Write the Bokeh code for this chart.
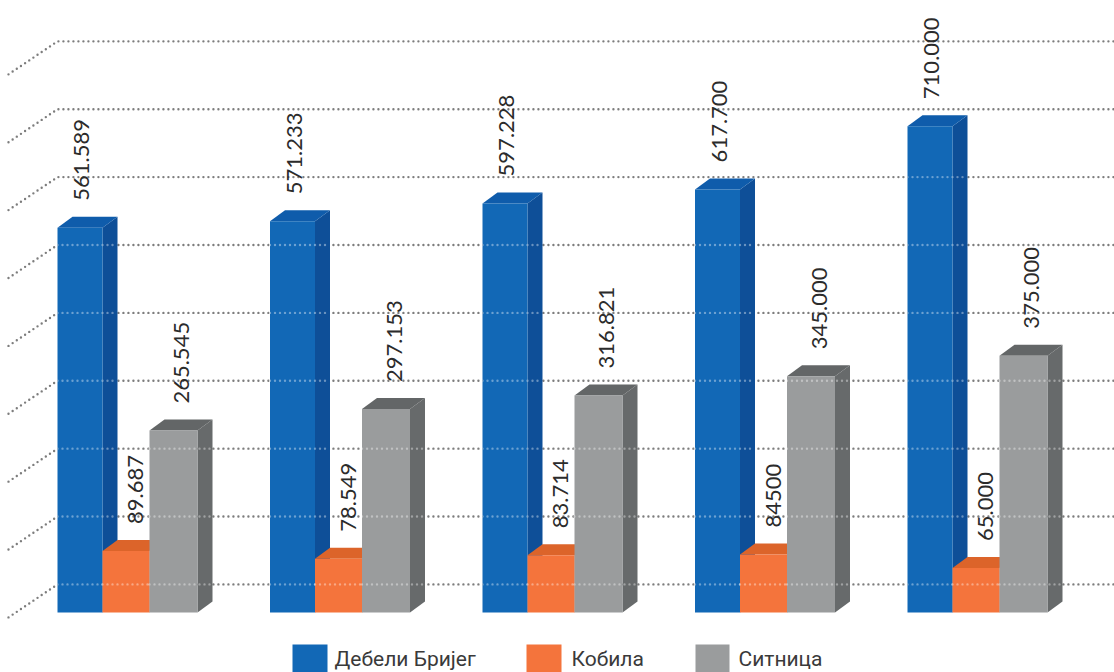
import math
from bokeh.plotting import figure
from bokeh.models import Range1d
from bokeh.core.properties import value
from bokeh.embed import file_html
from bokeh.resources import INLINE

debeli = [561589, 571233, 597228, 617700, 710000]
kobila = [89687, 78549, 83714, 84500, 65000]
sitnica = [265545, 297153, 316821, 345000, 375000]
debeli_labels = ["561.589", "571.233", "597.228", "617.700", "710.000"]
kobila_labels = ["89.687", "78.549", "83.714", "84500", "65.000"]
sitnica_labels = ["265.545", "297.153", "316.821", "345.000", "375.000"]
series_names = ["Дебели Бријег", "Кобила", "Ситница"]
grid_levels = [41000 + i * 99100 for i in range(9)]

# layout, in screen pixels of the reference
W, H = 1114, 672
GROUP = 212.5
X0, Y0, K = 57.0, 612.0, 0.685


def X(px):
    return (px - X0) / GROUP


def Y(py):
    return (Y0 - py) / K * 1000


DX = 15 / GROUP          # depth of a bar, in groups
DY = 11 / K * 1000       # depth of a bar, in value units
GRID_DY = 33 / K * 1000

p = figure(width=W, height=H, output_backend="svg", toolbar_location=None,
           x_range=Range1d(X(0), X(W)), y_range=Range1d(Y(H), Y(0)),
           min_border=0, outline_line_color=None)
p.xaxis.visible = False
p.yaxis.visible = False
p.xgrid.visible = False
p.ygrid.visible = False
p.background_fill_color = "white"
p.border_fill_color = "white"

dot = dict(line_dash="0 5", line_cap="round", line_width=2.4)

# back wall grid with its slanted side wall
p.multi_line([[X(8), X(57), X(1114)] for _ in grid_levels],
             [[g - GRID_DY, g, g] for g in grid_levels],
             line_color="#7d7d7d", **dot)

edges = [0, 45, 92, 140]
styles = [("#1268b6", "#0e4f98", "#0f5cab"),
          ("#f4743c", "#d9622a", "#dc642a"),
          ("#9a9c9d", "#676a6b", "#636667")]
series = [debeli, kobila, sitnica]
labels = [debeli_labels, kobila_labels, sitnica_labels]
label_x = [24, 78, 124]

for g in range(5):
    for s in range(3):
        v = series[s][g]
        left = g + edges[s] / GROUP
        right = g + edges[s + 1] / GROUP
        front, side, top = styles[s]
        # side face
        p.patch([right, right + DX, right + DX, right],
                [0, DY, v + DY, v], fill_color=side, line_color=None)
        # top face
        p.patch([left, left + DX, right + DX, right],
                [v, v + DY, v + DY, v], fill_color=top, line_color=None)
        # front face
        p.quad(left=left, right=right, bottom=0, top=v,
               fill_color=front, line_color=None)
        # the wall grid, showing faintly through the bar
        for level in grid_levels:
            if level < v:
                p.line([left, right + DX], [level, level],
                       line_color="white", line_alpha=0.38, **dot)

for g in range(5):
    for s in range(3):
        v = series[s][g]
        p.text(x=[g + label_x[s] / GROUP], y=[v + DY + 16 / K * 1000],
               text=[labels[s][g]], angle=math.pi / 2,
               text_font=value("Lato"), text_font_size="22px",
               text_color="#2b2b2b", text_align="left",
               text_baseline="alphabetic")

# legend
swatches = [(292, 327), (526, 561), (695, 729)]
text_x = [334, 571, 738]
for i, name in enumerate(series_names):
    a, b = swatches[i]
    p.quad(left=X(a), right=X(b), bottom=Y(672), top=Y(644),
           fill_color=styles[i][0], line_color=None)
    p.text(x=[X(text_x[i])], y=[Y(658)], text=[name],
           text_font=value("Roboto"), text_font_size="21px",
           text_color="#3a3a3a", text_align="left",
           text_baseline="alphabetic")

open("out.html", "w").write(file_html(p, INLINE))
